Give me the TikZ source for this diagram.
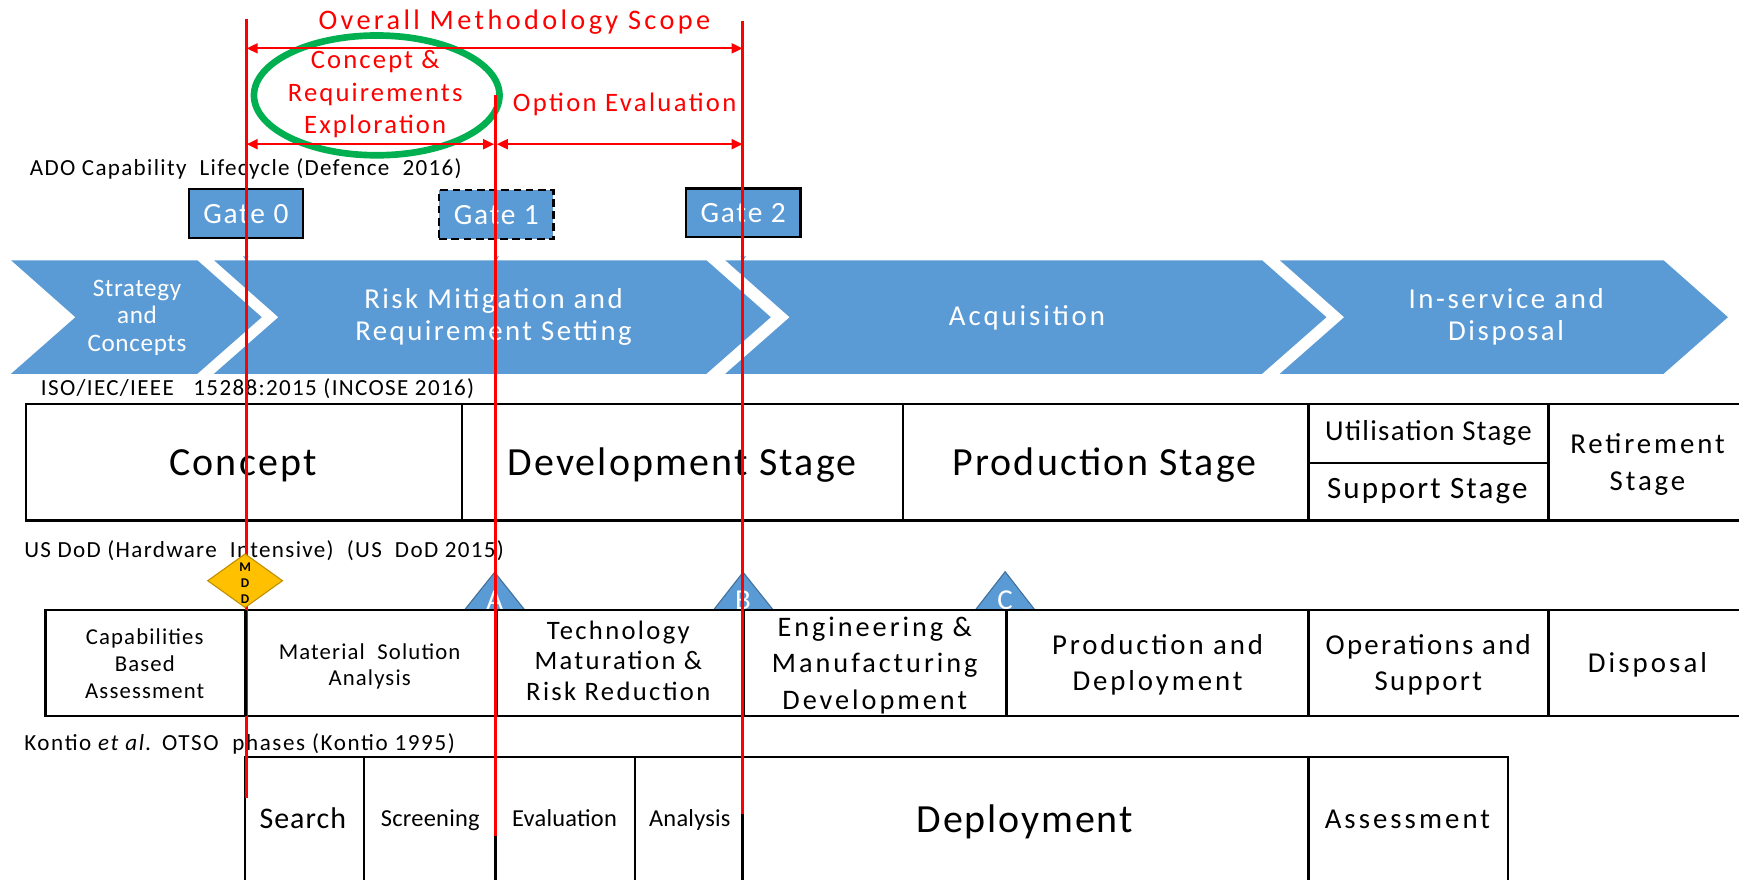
\documentclass[tikz,border=0pt]{standalone}
\usepackage{fontspec}
\setmainfont{Carlito}
\usetikzlibrary{arrows.meta}
\definecolor{ablue}{HTML}{5B9BD5}
\definecolor{tblue}{HTML}{41719C}
\definecolor{mgold}{HTML}{FFC000}
\definecolor{mgoldd}{HTML}{BF9000}
\definecolor{egreen}{HTML}{00B050}
\definecolor{rred}{HTML}{FF0000}
\newcommand\txf[3]{\fontsize{#1}{#2}\selectfont\addfontfeature{LetterSpace=#3}}
\newcommand\ml[1]{\begin{tabular}[t]{@{}c@{}}#1\end{tabular}}
\tikzset{
  txt/.style={inner sep=0pt, anchor=base},
  ltxt/.style={inner sep=0pt, anchor=base west, font=\txf{20.8}{24}{5.8}},
  wtxt/.style={txt, text=white},
  rtxt/.style={txt, text=rred},
  tbl/.style={draw=black, line width=2.2pt},
  chev/.style={fill=ablue},
  gate/.style={draw=black, line width=2.2pt, fill=ablue, minimum width=103pt, minimum height=44pt, inner sep=0pt, text=white, font=\txf{26.5}{30}{6}},
  redln/.style={draw=rred, line width=2.2pt},
  redarr/.style={draw=rred, line width=2pt, {Triangle[length=10pt,width=9pt]}-{Triangle[length=10pt,width=9pt]}},
  tri/.style={fill=ablue, draw=tblue, line width=1pt},
  gconn/.style={draw=ablue, line width=1pt, -{Stealth[length=4pt,width=5pt]}},
}
\begin{document}
\begin{tikzpicture}[x=1pt, y=-1pt]
\useasboundingbox (0,0) rectangle (1568,793);
\clip (0,0) rectangle (1568,793);
\fill[white] (0,0) rectangle (1568,793);

% ---------- chevrons (ADO lifecycle)
\fill[chev] (10,234.7) -- (178,234.7) -- (236,286) -- (178,337) -- (10,337) -- (68,286) -- cycle;
\fill[chev] (193,234.7) -- (637,234.7) -- (695,286) -- (637,337) -- (193,337) -- (251,286) -- cycle;
\fill[chev] (654,234.7) -- (1138,234.7) -- (1196,286) -- (1138,337) -- (654,337) -- (712,286) -- cycle;
\fill[chev] (1154,234.7) -- (1500,234.7) -- (1558,286) -- (1500,337) -- (1154,337) -- (1212,286) -- cycle;
\node[wtxt, font=\txf{22.7}{25}{2.5}] (ch1) at (123.5,266.9) {\ml{Strategy\\and\\Concepts}};
\node[wtxt, font=\txf{26}{28.5}{8.5}] (ch2) at (445,278.4) {\ml{Risk Mitigation and\\Requirement Setting}};
\node[wtxt, font=\txf{26}{28.5}{10}] (ch3) at (926,293.4) {Acquisition};
\node[wtxt, font=\txf{26}{28.6}{9}] (ch4) at (1358,278.4) {\ml{In-service and\\Disposal}};

% ---------- gates
\coordinate (chtop) at (0,234.7);
\node[gate] (g0) at (221.7,192.6) {Gate 0};
\node[gate, dash pattern=on 7pt off 4pt] (g1) at (447.5,193.5) {Gate 1};
\node[gate] (g2) at (670.1,191.8) {Gate 2};
\draw[gconn] (g0.south) -- (g0.south |- chtop);
\draw[gconn] (g1.south) -- (g1.south |- chtop);
\draw[gconn] (g2.south) -- (g2.south |- chtop);

% ---------- green ellipse
\draw[egreen, line width=6pt] (339.7,86) ellipse [x radius=110.7, y radius=54];

% ---------- section labels
\node[ltxt] (ado) at (26.7,158) {ADO Capability\ \ Lifecycle (Defence\ \ 2016)};
\node[ltxt] (iso) at (36.7,356.6) {ISO/IEC/IEEE\ \ \ 15288:2015 (INCOSE 2016)};
\node[ltxt] (dod) at (21.7,502.5) {US DoD (Hardware\ \ Intensive)\ \ (US\ \ DoD 2015)};
\node[ltxt, font=\txf{20.8}{24}{7}] (kon) at (21.7,677) {Kontio \textit{et al.} OTSO\ \ phases (Kontio 1995)};

% ---------- ISO table
\draw[tbl] (23.3,364.1) rectangle (1590,469.4);
\draw[tbl] (416.7,364.1) -- (416.7,469.4);
\draw[tbl] (814.3,364.1) -- (814.3,469.4);
\draw[tbl] (1179.8,364.1) -- (1179.8,469.4);
\draw[tbl] (1396.4,364.1) -- (1396.4,469.4);
\draw[tbl] (1179.8,417.4) -- (1396.4,417.4);
\node[txt, font=\txf{36}{40}{5.5}] (isoc) at (219,428.8) {Concept};
\node[txt, font=\txf{36}{40}{5.5}] (isod) at (615,428.8) {Development Stage};
\node[txt, font=\txf{36}{40}{5.5}] (isop) at (996,428.8) {Production Stage};
\node[txt, font=\txf{26}{30}{4.5}] (isou) at (1288,397.2) {Utilisation Stage};
\node[txt, font=\txf{28}{32}{7}] (isos) at (1287,449.9) {Support Stage};
\node[txt, font=\txf{26}{33}{10}] (isor) at (1485.5,409.2) {\ml{Retirement\\Stage}};

% ---------- DoD milestone triangles
\filldraw[tri] (446,516) -- (473,549.8) -- (419,549.8) -- cycle;
\filldraw[tri] (670,516) -- (697,549.8) -- (643.5,549.8) -- cycle;
\filldraw[tri] (906.3,515.5) -- (933,549.8) -- (879.6,549.8) -- cycle;
\node[wtxt, font=\txf{26}{30}{0}] (msA) at (446,550) {A};
\node[wtxt, font=\txf{26}{30}{0}] (msB) at (670,550) {B};
\node[wtxt, font=\txf{26}{30}{0}] (msC) at (906.3,550) {C};

% ---------- DoD table
\draw[tbl] (41,549.8) rectangle (1590,645.4);
\foreach \xx in {448.3,670.3,907.6,1179.8,1396.4} \draw[tbl] (\xx,549.8) -- (\xx,645.4);
\node[txt, font=\txf{20.5}{24.4}{5}] (cba) at (130.5,580.7) {\ml{Capabilities\\Based\\Assessment}};
\node[txt, font=\txf{20.5}{24.1}{5}] (msa) at (333.3,594.3) {\ml{Material\ \ Solution\\Analysis}};
\node[txt, font=\txf{24}{27.9}{8.8}] (tmrr) at (557.5,576.2) {\ml{Technology\\Maturation \&\\Risk Reduction}};
\node[txt, font=\txf{25.5}{32.65}{10.5}] (emd) at (788.7,574.1) {\ml{Engineering \&\\Manufacturing\\Development}};
\node[txt, font=\txf{26}{33.1}{10}] (pd) at (1043.7,589.8) {\ml{Production and\\Deployment}};
\node[txt, font=\txf{26}{33.1}{8}] (os) at (1287.8,589.8) {\ml{Operations and\\Support}};
\node[txt, font=\txf{26}{30}{10.6}] (disp) at (1485.5,606.3) {Disposal};

% ---------- Kontio table
\draw[tbl] (221,682.5) rectangle (1359.8,820);
\foreach \xx in {328.3,446.7,572.6,669.6,1179.8} \draw[tbl] (\xx,682.5) -- (\xx,820);
\node[txt, font=\txf{27}{30}{3.4}] (k1) at (273,746.8) {Search};
\node[txt, font=\txf{22}{26}{1}] (k2) at (388,745.3) {Screening};
\node[txt, font=\txf{22}{26}{1}] (k3) at (509,745.3) {Evaluation};
\node[txt, font=\txf{22}{26}{1}] (k4) at (622,745.3) {Analysis};
\node[txt, font=\txf{36}{40}{4.6}] (k5) at (924,750.8) {Deployment};
\node[txt, font=\txf{26}{30}{10.5}] (k6) at (1269,747) {Assessment};

% ---------- red scope lines and arrows
\coordinate (r1t) at (222.4,17.5);  \coordinate (r1b) at (222.4,719.8);
\coordinate (r2t) at (446.7,85.8);  \coordinate (r2b) at (446.7,753.8);
\coordinate (r3t) at (669.6,18.7);  \coordinate (r3b) at (669.6,734.2);
\draw[redln] (r1t) -- (r1b);
\draw[redln] (r2t) -- (r2b);
\draw[redln] (r3t) -- (r3b);
\coordinate (a1) at (0,43.6);
\coordinate (a2) at (0,130);
\draw[redarr] (r1t |- a1) -- (r3t |- a1);
\draw[redarr] (r1t |- a2) -- ([xshift=-1.2pt]r2t |- a2);
\draw[redarr] ([xshift=1.2pt]r2t |- a2) -- (r3t |- a2);
\node[rtxt, font=\txf{25.5}{30}{12}] (scope) at (463.8,26.5) {Overall Methodology Scope};
\node[rtxt, font=\txf{24}{29.4}{8}] (cre) at (338.3,61.7) {\ml{Concept \&\\Requirements\\Exploration}};
\node[rtxt, font=\txf{24}{29.4}{9}] (opt) at (563.2,100.8) {Option Evaluation};

% ---------- MDD diamond and first DoD divider (above the red line)
\filldraw[fill=mgold, draw=mgoldd, line width=1pt] (221,499.5) -- (254.7,523.6) -- (221,547.7) -- (187.3,523.6) -- cycle;
\node[txt, font=\txf{12}{14.4}{0}\bfseries] (mdd) at (221,515.2) {\ml{M\\D\\D}};
\draw[tbl, line width=3pt] (221.3,549.8) -- (221.3,645.4);
\end{tikzpicture}
\end{document}
